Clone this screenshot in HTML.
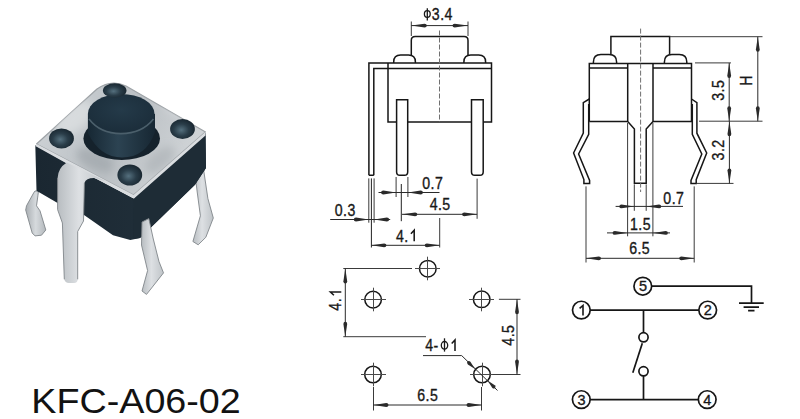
<!DOCTYPE html>
<html><head><meta charset="utf-8">
<style>
html,body{margin:0;padding:0;background:#fff;width:800px;height:419px;overflow:hidden}
svg{display:block}
text{font-family:"Liberation Sans",sans-serif;fill:#181818;stroke:#181818;stroke-width:0.35}
</style></head><body>
<svg width="800" height="419" viewBox="0 0 800 419">
<g id="photo">
  <defs>
    <linearGradient id="gPlate" x1="0" y1="0" x2="1" y2="0.3">
      <stop offset="0" stop-color="#d2d6d9"/>
      <stop offset="0.35" stop-color="#c3c8cc"/>
      <stop offset="0.6" stop-color="#bbc0c4"/>
      <stop offset="1" stop-color="#cfd3d6"/>
    </linearGradient>
    <linearGradient id="gLegA" x1="0" y1="0" x2="1" y2="0">
      <stop offset="0" stop-color="#b8bdc1"/>
      <stop offset="0.45" stop-color="#dde0e3"/>
      <stop offset="1" stop-color="#bfc4c8"/>
    </linearGradient>
    <linearGradient id="gLegB" x1="0" y1="0" x2="1" y2="0">
      <stop offset="0" stop-color="#a9aeb2"/>
      <stop offset="0.5" stop-color="#d6dadd"/>
      <stop offset="1" stop-color="#b3b8bc"/>
    </linearGradient>
    <radialGradient id="gDot" cx="0.45" cy="0.55" r="0.6">
      <stop offset="0" stop-color="#55707e"/>
      <stop offset="0.5" stop-color="#2a3d49"/>
      <stop offset="1" stop-color="#16232c"/>
    </radialGradient>
    <linearGradient id="gPlSide" x1="0" y1="0" x2="1" y2="0">
      <stop offset="0" stop-color="#172834"/>
      <stop offset="0.45" stop-color="#2c4352"/>
      <stop offset="1" stop-color="#172733"/>
    </linearGradient>
    <radialGradient id="gPlTop" cx="0.5" cy="0.4" r="0.6">
      <stop offset="0" stop-color="#243a49"/>
      <stop offset="1" stop-color="#1b2d3a"/>
    </radialGradient>
    <linearGradient id="gBodyL" x1="0" y1="0" x2="1" y2="0">
      <stop offset="0" stop-color="#1a2731"/>
      <stop offset="1" stop-color="#23323d"/>
    </linearGradient>
    <filter id="fBlur" x="-50%" y="-50%" width="200%" height="200%"><feGaussianBlur stdDeviation="4"/></filter>
    <clipPath id="cPlate"><path d="M36.5 144 L97 89 Q111 79 126 86 L205.5 132 L133.6 195 Z"/></clipPath>
  </defs>
  <!-- back legs -->
  <path d="M35 191 L33.6 193 L26.5 205.8 L25.7 210 L32.2 233 L35 235.9 L41.5 235.2 L45.8 230 L40 210.8 L36.5 205.8 L37.9 195.8 L38.5 191 Z" fill="url(#gLegB)" stroke="#80868a" stroke-width="0.9"/>
  <path d="M195 174 L203.6 169.7 L207.9 198.6 L213.3 218 L205.8 237.3 L198.2 244.8 L192.9 241.5 L200.4 215.8 L197.2 192 Z" fill="url(#gLegA)" stroke="#80868a" stroke-width="0.9"/>
  <!-- body -->
  <path d="M35.3 145 L66.8 163 L133.6 198.5 L205.5 133 L206 168 L195 184.7 L140 238 L130.3 240 L113 235.3 L84.4 215.3 L57.6 203 L36.5 190.7 Z" fill="url(#gBodyL)"/>
  <path d="M133.6 198.5 L205.5 133 L206 168 L195 184.7 L140 238 L133 239 Z" fill="#1e2c36"/>
  <!-- plate top -->
  <path d="M36.5 144 L97 89 Q111 79 126 86 L205.5 132 L133.6 195 Z" fill="url(#gPlate)" stroke="#9ea3a7" stroke-width="1.2" stroke-linejoin="round"/>
  <g filter="url(#fBlur)" clip-path="url(#cPlate)">
    <ellipse cx="75" cy="118" rx="22" ry="12" transform="rotate(-40 75 118)" fill="#dfe2e4" opacity="0.7"/>
    <ellipse cx="95" cy="160" rx="20" ry="10" transform="rotate(25 95 160)" fill="#9aa0a5" opacity="0.6"/>
    <ellipse cx="160" cy="160" rx="18" ry="9" transform="rotate(-40 160 160)" fill="#a3a9ad" opacity="0.5"/>
    <ellipse cx="175" cy="108" rx="14" ry="7" transform="rotate(30 175 108)" fill="#d9dcdf" opacity="0.6"/>
  </g>
  <!-- plate front edge band -->
  <path d="M36.5 144 L133.6 195 L205.5 132 L205.5 135.5 L134 198.5 L66.8 163.5 L35.3 146 Z" fill="#dadde0"/>
  <!-- big front leg -->
  <path d="M66.8 162.5 Q58 168 57.6 178 L57.6 209.6 L62.4 223 L64.3 279.3 Q65 283 69 283 L74 283 Q77.7 283 77.7 279.3 L77.7 231.5 L83.5 221 L84.4 183 Q86 178 93.9 178 L105.3 181 Z" fill="url(#gLegA)"/>
  <path d="M57.6 178 L57.6 209.6 L62.4 223 L64.3 279.3" fill="none" stroke="#80868a" stroke-width="0.9"/>
  <path d="M77.7 279.3 L77.7 231.5 L83.5 221 L84.4 183" fill="none" stroke="#80868a" stroke-width="0.9"/>
  <!-- front right leg -->
  <path d="M142 222 L148.8 218.6 L153.3 239 L159 261.6 L163.5 272.9 L150 290 L146.5 294.4 L142 291 L147.6 270.6 L141.5 245 Z" fill="url(#gLegA)" stroke="#80868a" stroke-width="0.9"/>
  <!-- plunger -->
  <ellipse cx="121.7" cy="138.5" rx="38.3" ry="21.5" fill="#15222c"/>
  <path d="M87.9 114 V133 Q100 157.5 122 157.5 Q146 157.5 155 132 V114 Z" fill="url(#gPlSide)"/>
  <ellipse cx="121.2" cy="113.8" rx="33.3" ry="19.8" fill="url(#gPlTop)"/>
  <path d="M89 119 Q100 133.5 121 133.6 Q142 133.5 153.5 119" fill="none" stroke="#4b5f6b" stroke-width="1.6"/>
  <!-- dots -->
  <ellipse cx="114.7" cy="90.5" rx="11.8" ry="7.2" fill="url(#gDot)"/>
  <ellipse cx="61.5" cy="138.4" rx="12.4" ry="10" fill="url(#gDot)"/>
  <ellipse cx="182.5" cy="129" rx="12.4" ry="10" fill="url(#gDot)"/>
  <ellipse cx="129.8" cy="175" rx="12.4" ry="10.5" fill="url(#gDot)"/>
</g>

<text transform="translate(31.3 412.9) scale(1.062 1)" font-size="35.5" style="fill:#121212;stroke:none">KFC-A06-02</text>
<g fill="none" stroke="#161616" stroke-width="1.5">
<path d="M411.3 55.2 V40.5 Q411.3 36.6 415.2 36.6 H464.1 Q468 36.6 468 40.5 V55.2"/>
<path d="M393.7 63 V62 Q393.7 55.1 400.6 55.1 H408.5 Q415.4 55.1 415.4 62 V63"/>
<path d="M463.9 63 V62 Q463.9 55.1 470.8 55.1 H478.7 Q485.6 55.1 485.6 62 V63"/>
<path d="M368.9 175.3 V63.1 H491.5 V122 H483.2 M471.5 122 H407.7 M396.6 122 H388 V63.1"/>
<path d="M373.8 175.3 V68.5 H491.5 M368.9 175.3 H373.8"/>
<path d="M396.6 99.7 H407.7 V172 Q407.7 175.3 404.4 175.3 H399.9 Q396.6 175.3 396.6 172 Z"/>
<path d="M471.5 99.7 H483.2 V172 Q483.2 175.3 479.9 175.3 H474.8 Q471.5 175.3 471.5 172 Z"/>
</g>
<g fill="none" stroke="#3a3a3a" stroke-width="1">
<path d="M439.5 30.5 V122" stroke-dasharray="5 2" stroke="#707070"/>
<path d="M411.3 21.5 V36 M468 21.5 V36"/>
<path d="M368.8 178.4 V222.7 M374.1 178.4 V222.7 M396.1 177 V197 M407.9 177 V197 M477.1 178.6 V218.8 M439.7 218 V247.5"/>
<path d="M371.4 178.4 V247.5 M401.3 184 V221.2" stroke="#222"/>
</g>
<g fill="none" stroke="#2a2a2a" stroke-width="1">
<path d="M411.3 25.6 H468 M378.5 192.5 H439.5 M402 214.3 H477.1 M330.2 219.5 H390.2 M371.4 245.3 H439.7"/>
</g>
<g fill="#2a2a2a">
<path d="M0 0 L13.3 -1.9 Q15.5 -1.9 15.5 0 Q15.5 1.9 13.3 1.9 Z" transform="translate(411.3 25.6) rotate(0)"/>
<path d="M0 0 L13.3 -1.9 Q15.5 -1.9 15.5 0 Q15.5 1.9 13.3 1.9 Z" transform="translate(468 25.6) rotate(180)"/>
<path d="M0 0 L12.8 -1.9 Q15 -1.9 15 0 Q15 1.9 12.8 1.9 Z" transform="translate(396.1 192.5) rotate(180)"/>
<path d="M0 0 L12.8 -1.9 Q15 -1.9 15 0 Q15 1.9 12.8 1.9 Z" transform="translate(407.9 192.5) rotate(0)"/>
<path d="M0 0 L12.8 -1.9 Q15 -1.9 15 0 Q15 1.9 12.8 1.9 Z" transform="translate(402.3 214.3) rotate(0)"/>
<path d="M0 0 L12.8 -1.9 Q15 -1.9 15 0 Q15 1.9 12.8 1.9 Z" transform="translate(477.1 214.3) rotate(180)"/>
<path d="M0 0 L12.8 -1.9 Q15 -1.9 15 0 Q15 1.9 12.8 1.9 Z" transform="translate(368.8 219.5) rotate(180)"/>
<path d="M0 0 L12.8 -1.9 Q15 -1.9 15 0 Q15 1.9 12.8 1.9 Z" transform="translate(374.1 219.5) rotate(0)"/>
<path d="M0 0 L12.8 -1.9 Q15 -1.9 15 0 Q15 1.9 12.8 1.9 Z" transform="translate(371.4 245.3) rotate(0)"/>
<path d="M0 0 L12.8 -1.9 Q15 -1.9 15 0 Q15 1.9 12.8 1.9 Z" transform="translate(439.7 245.3) rotate(180)"/>
</g>
<g fill="none" stroke="#181818" stroke-width="1.3"><ellipse cx="427.3" cy="14" rx="2.9" ry="3.4"/><path d="M427.3 8.2 V20.6"/></g>
<text transform="translate(442.33 19.8) scale(0.9 1)" font-size="15.7" letter-spacing="0.5" text-anchor="middle">3.4</text>
<text transform="translate(432.73 189.1) scale(0.9 1)" font-size="15.7" letter-spacing="0.5" text-anchor="middle">0.7</text>
<text transform="translate(440.18 210.1) scale(0.9 1)" font-size="15.7" letter-spacing="0.5" text-anchor="middle">4.5</text>
<text transform="translate(345.23 216.0) scale(0.9 1)" font-size="15.7" letter-spacing="0.5" text-anchor="middle">0.3</text>
<text transform="translate(396.05 241.7) scale(0.9 1)" font-size="15.7" letter-spacing="0.5">4.</text>
<path d="M414.2 241.3 V230.3 L410.9 233.8" fill="none" stroke="#181818" stroke-width="1.55" stroke-linejoin="miter"/>
<g fill="none" stroke="#161616" stroke-width="1.5">
<path d="M610.9 54.5 V36.6 H669.6 V54.5"/>
<path d="M593.4 63.5 V62 Q593.4 54.5 600.9 54.5 H609.1 Q616.6 54.5 616.6 62 V63.5"/>
<path d="M664.4 63.5 V62 Q664.4 54.5 671.9 54.5 H679.3 Q686.8 54.5 686.8 62 V63.5"/>
<path d="M589.3 121.5 V63.5 H691.5 V121.5 H653 M627.7 121.5 H589.3"/>
<path d="M589.3 68.1 H627.7 M653 68.1 H691.5"/>
<path d="M627.7 63.5 V121.5 L634.4 129 V183.3 H646.2 V129 L653 121.5 V63.5"/>
<path d="M589.3 99 L583.3 102.6 V133.2 L573.6 153 L583.9 179.6 V183.4 H589.6 V180.4 L578.6 154 L588.7 134.3 V104"/>
<path d="M691.5 99 L696.9 102.6 V133.2 L706.7 153 L696.2 179.6 V183.4 H691 V180.4 L701.8 154 L692.3 134.3 V104"/>
</g>
<g fill="none" stroke="#3a3a3a" stroke-width="1">
<path d="M640.6 28.6 V192" stroke-dasharray="5 2" stroke="#707070"/>
<path d="M669.6 36.7 H762.5 M695 62.9 H731 M699 121.2 H762.5 M696.2 183.4 H733.5"/>
<path d="M586 186.4 V262.5 M694.2 186.4 V262.5 M634.3 184.3 V210.8 M646.2 184.3 V210.8 M627.6 123 V236.3 M652.9 123 V236.3"/>
</g>
<g fill="none" stroke="#2a2a2a" stroke-width="1">
<path d="M757.8 36.7 V121.2 M729.2 62.9 V121.2 M729.4 121.2 V183.4"/>
<path d="M615.6 206.4 H683 M607 232.9 H670 M586 258.3 H694.2"/>
</g>
<g fill="#2a2a2a">
<path d="M0 0 L12.8 -1.9 Q15 -1.9 15 0 Q15 1.9 12.8 1.9 Z" transform="translate(757.8 36.7) rotate(90)"/>
<path d="M0 0 L12.8 -1.9 Q15 -1.9 15 0 Q15 1.9 12.8 1.9 Z" transform="translate(757.8 121.2) rotate(-90)"/>
<path d="M0 0 L12.8 -1.9 Q15 -1.9 15 0 Q15 1.9 12.8 1.9 Z" transform="translate(729.2 62.9) rotate(90)"/>
<path d="M0 0 L12.8 -1.9 Q15 -1.9 15 0 Q15 1.9 12.8 1.9 Z" transform="translate(729.2 121.2) rotate(-90)"/>
<path d="M0 0 L12.8 -1.9 Q15 -1.9 15 0 Q15 1.9 12.8 1.9 Z" transform="translate(729.4 121.2) rotate(90)"/>
<path d="M0 0 L12.8 -1.9 Q15 -1.9 15 0 Q15 1.9 12.8 1.9 Z" transform="translate(729.4 183.4) rotate(-90)"/>
<path d="M0 0 L12.8 -1.9 Q15 -1.9 15 0 Q15 1.9 12.8 1.9 Z" transform="translate(634.3 206.4) rotate(180)"/>
<path d="M0 0 L12.8 -1.9 Q15 -1.9 15 0 Q15 1.9 12.8 1.9 Z" transform="translate(646.2 206.4) rotate(0)"/>
<path d="M0 0 L12.8 -1.9 Q15 -1.9 15 0 Q15 1.9 12.8 1.9 Z" transform="translate(627.6 232.9) rotate(180)"/>
<path d="M0 0 L12.8 -1.9 Q15 -1.9 15 0 Q15 1.9 12.8 1.9 Z" transform="translate(652.9 232.9) rotate(0)"/>
<path d="M0 0 L12.8 -1.9 Q15 -1.9 15 0 Q15 1.9 12.8 1.9 Z" transform="translate(586 258.3) rotate(0)"/>
<path d="M0 0 L12.8 -1.9 Q15 -1.9 15 0 Q15 1.9 12.8 1.9 Z" transform="translate(694.2 258.3) rotate(180)"/>
</g>
<text transform="translate(673.82 204.0) scale(0.9 1)" font-size="15.7" letter-spacing="0.5" text-anchor="middle">0.7</text>
<text transform="translate(640.48 229.9) scale(0.9 1)" font-size="15.7" letter-spacing="0.5" text-anchor="middle">1.5</text>
<text transform="translate(639.62 254.3) scale(0.9 1)" font-size="15.7" letter-spacing="0.5" text-anchor="middle">6.5</text>
<text transform="translate(723.6 90.23) rotate(-90) scale(0.9 1)" font-size="15.7" letter-spacing="0.5" text-anchor="middle">3.5</text>
<text transform="translate(723.6 149.92) rotate(-90) scale(0.9 1)" font-size="15.7" letter-spacing="0.5" text-anchor="middle">3.2</text>
<text transform="translate(752.4 80.53) rotate(-90) scale(0.9 1)" font-size="15.7" letter-spacing="0.5" text-anchor="middle">H</text>
<g fill="none" stroke="#161616" stroke-width="1.5">
<circle cx="373.1" cy="299.6" r="8.3"/>
<circle cx="427.8" cy="268.7" r="8.3"/>
<circle cx="481.7" cy="299.3" r="8.3"/>
<circle cx="373" cy="374.5" r="8.3"/>
<circle cx="482" cy="374.5" r="8.3"/>
</g>
<g fill="none" stroke="#4a4a4a" stroke-width="1">
<path d="M361.0 299.5 H386.0 M373.5 287.7 V311.3"/>
<path d="M415.0 268.5 H440.0 M427.5 256.7 V280.3"/>
<path d="M469.0 299.5 H494.0 M481.5 287.7 V311.3"/>
<path d="M361.0 374.5 H386.0 M373.5 362.7 V386.3"/>
<path d="M470.0 374.5 H495.0 M482.5 362.7 V386.3"/>
</g>
<g fill="none" stroke="#3a3a3a" stroke-width="1">
<path d="M343.3 268.5 H412 M343.3 336.7 H426 M498.9 299.3 H520.5 M492.5 374.5 H520.5 M373.5 387 V410.5 M481.5 387 V410.5"/>
</g>
<g fill="none" stroke="#2a2a2a" stroke-width="1">
<path d="M345.3 268.5 V336.7 M517 299.3 V374.5 M373.5 405 H481.5 M423 355.6 H461.7 L497.5 390.5"/>
</g>
<g fill="#2a2a2a">
<path d="M0 0 L12.8 -1.9 Q15 -1.9 15 0 Q15 1.9 12.8 1.9 Z" transform="translate(345.3 268.5) rotate(90)"/>
<path d="M0 0 L12.8 -1.9 Q15 -1.9 15 0 Q15 1.9 12.8 1.9 Z" transform="translate(345.3 336.7) rotate(-90)"/>
<path d="M0 0 L12.8 -1.9 Q15 -1.9 15 0 Q15 1.9 12.8 1.9 Z" transform="translate(517 299.3) rotate(90)"/>
<path d="M0 0 L12.8 -1.9 Q15 -1.9 15 0 Q15 1.9 12.8 1.9 Z" transform="translate(517 374.5) rotate(-90)"/>
<path d="M0 0 L12.8 -1.9 Q15 -1.9 15 0 Q15 1.9 12.8 1.9 Z" transform="translate(373.5 405) rotate(0)"/>
<path d="M0 0 L12.8 -1.9 Q15 -1.9 15 0 Q15 1.9 12.8 1.9 Z" transform="translate(481.5 405) rotate(180)"/>
<path d="M0 0 L8.3 -1.8 Q10.5 -1.8 10.5 0 Q10.5 1.8 8.3 1.8 Z" transform="translate(475.0 369.0) rotate(225)"/>
<path d="M0 0 L8.3 -1.8 Q10.5 -1.8 10.5 0 Q10.5 1.8 8.3 1.8 Z" transform="translate(487.6 380.6) rotate(45)"/>
</g>
<text transform="translate(341.2 310.65) rotate(-90) scale(0.9 1)" font-size="15.7" letter-spacing="0.5">4.</text>
<path d="M341.3 292.0 V281.1 L338.0 284.6" fill="none" stroke="#181818" stroke-width="1.55" stroke-linejoin="miter" transform="rotate(-90 341.3 292.0)"/>
<text transform="translate(514.3 335.17) rotate(-90) scale(0.9 1)" font-size="15.7" letter-spacing="0.5" text-anchor="middle">4.5</text>
<text transform="translate(427.73 401.3) scale(0.9 1)" font-size="15.7" letter-spacing="0.5" text-anchor="middle">6.5</text>
<text transform="translate(425.15 351.0) scale(0.9 1)" font-size="15.7" letter-spacing="0.5">4-</text>
<g fill="none" stroke="#181818" stroke-width="1.3"><ellipse cx="444.5" cy="345.3" rx="3.2" ry="3.8"/><path d="M444.5 338.3 V351.6"/></g>
<path d="M455.0 351.0 V340.0 L451.7 343.5" fill="none" stroke="#181818" stroke-width="1.55" stroke-linejoin="miter"/>
<g fill="none" stroke="#161616" stroke-width="1.7">
<circle cx="581.35" cy="310.1" r="8.85"/>
<circle cx="707.7" cy="310.1" r="8.85"/>
<circle cx="642.8" cy="286.2" r="8.85"/>
<circle cx="581.3" cy="399.6" r="8.85"/>
<circle cx="707.2" cy="399.6" r="8.85"/>
<path d="M590.2 310.1 H698.85 M651.65 286.2 H751.5 V303.1 M643.5 310.1 V332.6 M643.5 376 V399.6 M590.15 399.6 H698.35"/>
<path d="M739 303.1 H763.7 M743.6 307.1 H759 M748.1 310.7 H754.5"/>
<circle cx="643.5" cy="337.3" r="4.6"/><circle cx="643.5" cy="371.3" r="4.6"/>
<path d="M632.8 372.8 L642.3 343.2"/>
</g>
<g font-size="14.5" text-anchor="middle">
<text x="707.9000000000001" y="315.0">2</text>
<text x="643.0" y="291.09999999999997">5</text>
<text x="581.5" y="404.5">3</text>
<text x="707.4000000000001" y="404.5">4</text>
</g>
<path d="M583.0 315.6 V305.4 L579.6 308.4" fill="none" stroke="#181818" stroke-width="1.6" stroke-linejoin="miter"/>
</svg>
</body></html>
